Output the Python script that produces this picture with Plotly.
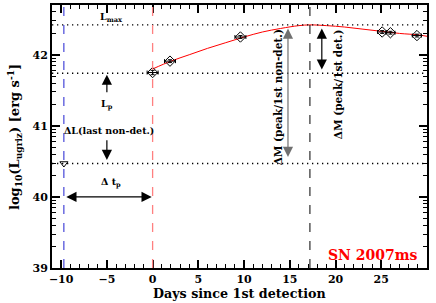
import plotly.graph_objects as go
import numpy as np

# Data
det_days = [0.0, 1.9, 9.6, 25.1, 26.0, 28.9]
det_logL = [41.75, 41.91, 42.25, 42.32, 42.31, 42.27]
det_xerr = [0.6, 0.6, 0.6, 0.5, 0.5, 0.5]
det_yerr = [0.03, 0.02, 0.02, 0.02, 0.02, 0.02]

nondet_day = [-9.7]
nondet_logL = [40.47]

fit_days = [0, 2, 4, 6, 8, 10, 12, 14, 16, 17.2, 19, 21, 23, 25, 27, 29, 30]
fit_logL = [41.80, 41.91, 42.00, 42.09, 42.17, 42.25, 42.32, 42.37, 42.41, 42.42,
            42.41, 42.39, 42.36, 42.33, 42.30, 42.28, 42.26]

L_max = 42.42
L_p = 41.74
L_nondet = 40.47
t_peak = 17.2
t_nondet = -9.7
t_first = 0.0

x_ticks = [-10, -5, 0, 5, 10, 15, 20, 25]
y_ticks = [39, 40, 41, 42]

FONT = "DejaVu Serif"

fig = go.Figure()

# reference lines
for yv in [L_max, L_p, L_nondet]:
    fig.add_shape(type="line", xref="x", yref="y", x0=-11, x1=30, y0=yv, y1=yv,
                  line=dict(color="black", width=1.3, dash="1.3px,3.7px"))
fig.add_shape(type="line", xref="x", yref="paper", x0=t_first, x1=t_first, y0=0, y1=1,
              line=dict(color="#ff8080", width=1.3, dash="dash"))
fig.add_shape(type="line", xref="x", yref="paper", x0=t_nondet, x1=t_nondet, y0=0, y1=1,
              line=dict(color="#2020d0", width=1, dash="dash"))
fig.add_shape(type="line", xref="x", yref="paper", x0=t_peak, x1=t_peak, y0=0, y1=1,
              line=dict(color="black", width=1, dash="dash"))

fig.add_trace(go.Scatter(x=fit_days, y=fit_logL, mode="lines", line=dict(color="red", width=1, shape="spline"),
                         hoverinfo="skip"))
fig.add_trace(go.Scatter(x=det_days, y=det_logL, mode="markers",
                         error_x=dict(type="data", array=det_xerr, color="black", thickness=1, width=2),
                         error_y=dict(type="data", array=det_yerr, color="black", thickness=1, width=2),
                         marker=dict(symbol="diamond-open", size=8, color="black", line=dict(width=1))))
fig.add_trace(go.Scatter(x=nondet_day, y=nondet_logL, mode="markers",
                         marker=dict(symbol="triangle-down-open", size=7, color="black", line=dict(width=1))))

af = dict(family=FONT, size=9.5, color="black")
vf = dict(family=FONT, size=10.5, color="black")

def text(x, y, s, font=af, **kw):
    fig.add_annotation(x=x, y=y, xref="x", yref="y", text=s, showarrow=False, font=font, **kw)

def arrow(x0, y0, x1, y1, both=False, color="black"):
    fig.add_annotation(x=x1, y=y1, ax=x0, ay=y0, xref="x", yref="y", axref="x", ayref="y",
                       text="", showarrow=True, arrowhead=2, arrowsize=1.7, arrowwidth=1.2,
                       arrowcolor=color, arrowside="end+start" if both else "end",
                       startarrowhead=2, startarrowsize=1.7)

text(-4.6, 42.53, "<b>L<sub>max</sub></b>")
arrow(-5, 41.45, -5, 41.72)
text(-5, 41.30, "<b>L<sub>p</sub></b>")
text(-4.8, 40.94, "<b>ΔL(last non-det.)</b>")
arrow(-5, 40.82, -5, 40.52)
text(-4.6, 40.20, "<b>Δ t<sub>p</sub></b>")
arrow(-9.6, 40.0, -0.1, 40.0, both=True)
arrow(14.8, 40.54, 14.8, 42.37, both=True, color="#707070")
text(13.7, 41.40, "<b>ΔM (peak/1st non-det.)</b>", font=vf, textangle=-90)
arrow(18.5, 41.77, 18.5, 42.37, both=True)
text(20.3, 41.59, "<b>ΔM (peak/1st det.)</b>", font=vf, textangle=-90)
fig.add_annotation(x=24.1, y=39.18, xref="x", yref="y", text="<b>SN 2007ms</b>", showarrow=False,
                   font=dict(family=FONT, size=14, color="red"))

# axis titles
fig.add_annotation(x=0.5, y=0, xref="paper", yref="paper", yanchor="top", yshift=-16,
                   text="<b>Days since 1st detection</b>", showarrow=False,
                   font=dict(family=FONT, size=12.7, color="black"))
fig.add_annotation(x=0, y=0.5, xref="paper", yref="paper", xanchor="right", xshift=-26,
                   text="<b>log<sub>10</sub>(L<sub>ugriz</sub>) [erg s<sup>-1</sup>]</b>", showarrow=False,
                   textangle=-90, font=dict(family=FONT, size=13, color="black"))

y_minor = [n + np.log10(k) for n in [39, 40, 41, 42] for k in range(2, 10) if n + np.log10(k) < 42.7]

axis_common = dict(showgrid=False, zeroline=False, showline=True, linecolor="black", linewidth=2,
                   mirror="ticks", ticks="inside", ticklen=8, tickwidth=1.5, tickcolor="black",
                   automargin=False, tickfont=dict(family=FONT, size=11, color="black"))

fig.update_xaxes(range=[-11, 30], tickvals=x_ticks, ticktext=[f"<b>{v:g}</b>".replace("-", "−") for v in x_ticks],
                 minor=dict(dtick=1, ticklen=4, tickwidth=1, tickcolor="black", ticks="inside"),
                 **axis_common)
fig.update_yaxes(range=[39, 42.7], tickvals=y_ticks, ticktext=[f"<b>{v}</b>" for v in y_ticks],
                 minor=dict(tickmode="array", tickvals=y_minor, ticklen=4, tickwidth=1, tickcolor="black", ticks="inside"),
                 **axis_common)

fig.update_layout(width=436, height=303, margin=dict(l=52, r=9, t=5, b=35),
                  paper_bgcolor="white", plot_bgcolor="white", showlegend=False)

fig.write_html("out.html", config={"displayModeBar": False},
               post_script="document.body.style.margin='0';document.body.style.overflow='hidden';")
